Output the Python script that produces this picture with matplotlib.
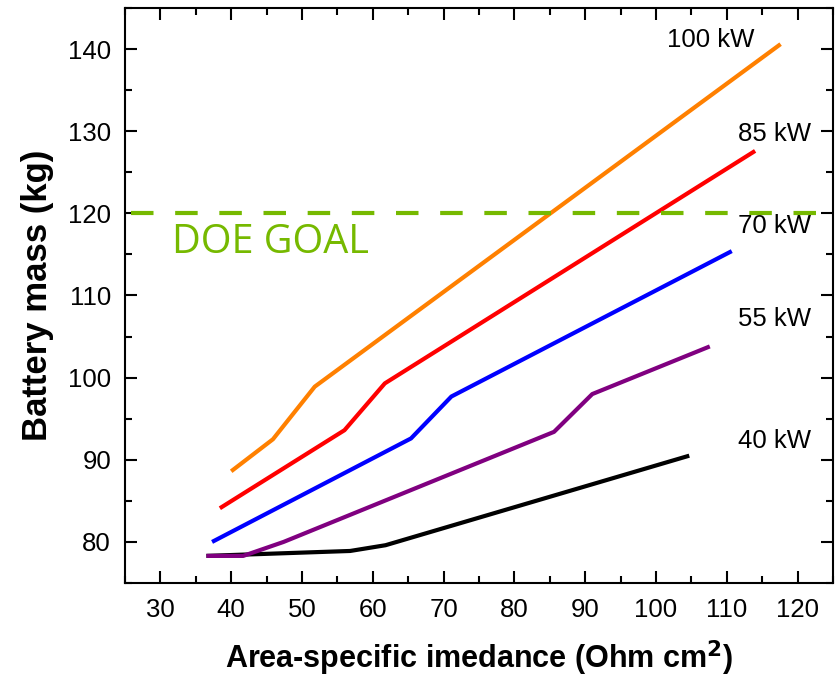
import matplotlib
matplotlib.use("Agg")
import matplotlib.pyplot as plt
from matplotlib.ticker import MultipleLocator

# Area-specific impedance (Ohm cm^2) vs. battery mass (kg) per pack power
imp_100 = [40.0, 45.9, 51.8, 117.6]
mass_100 = [88.6, 92.5, 98.9, 140.6]

imp_85 = [38.4, 56.0, 61.7, 114.0]
mass_85 = [84.1, 93.6, 99.3, 127.6]

imp_70 = [37.3, 65.4, 71.1, 110.7]
mass_70 = [80.0, 92.6, 97.7, 115.4]

imp_55 = [36.5, 41.7, 47.4, 85.6, 91.0, 107.6]
mass_55 = [78.3, 78.3, 80.0, 93.4, 98.0, 103.8]

imp_40 = [36.5, 56.8, 61.8, 104.7]
mass_40 = [78.3, 78.9, 79.6, 90.5]

series_labels = ["100 kW", "85 kW", "70 kW", "55 kW", "40 kW"]
label_x = [113.9, 121.9, 121.9, 121.9, 121.9]
label_y = [140.3, 128.8, 117.6, 106.3, 91.4]

doe_goal = 120
xticks = [30, 40, 50, 60, 70, 80, 90, 100, 110, 120]
yticks = [80, 90, 100, 110, 120, 130, 140]

plt.rcParams["font.family"] = ["Liberation Sans", "DejaVu Sans"]

fig = plt.figure(figsize=(8.36, 6.81), dpi=100)
ax = fig.add_axes([0.1495, 0.1439, 0.8469, 0.8444])

series = [
    (imp_100, mass_100, "#ff8000"),
    (imp_85, mass_85, "#ff0000"),
    (imp_70, mass_70, "#0000ff"),
    (imp_55, mass_55, "#800080"),
    (imp_40, mass_40, "#000000"),
]
# draw black first so purple sits on top where they share the start
for xs, ys, c in reversed(series):
    ax.plot(xs, ys, color=c, lw=3, solid_capstyle="butt", zorder=3)

ax.plot([25.9, 123.3], [doe_goal, doe_goal], color="#76b900", lw=3,
        dashes=(5.4, 5.2), zorder=4)
ax.text(31.6, 115.2, "DOE GOAL", color="#76b900", fontsize=28.5,
        family=["Open Sans", "DejaVu Sans"], ha="left", va="baseline")

for lab, lx, ly in zip(series_labels, label_x, label_y):
    ax.text(lx, ly, lab, fontsize=18.5, ha="right", va="baseline", color="black")

ax.set_xlim(25, 125)
ax.set_ylim(75, 145)
ax.set_xticks(xticks)
ax.set_yticks(yticks)
ax.xaxis.set_minor_locator(MultipleLocator(5))
ax.yaxis.set_minor_locator(MultipleLocator(5))
ax.tick_params(which="both", direction="in", top=True, right=True, width=1.5,
               labelsize=18.5, color="black")
ax.tick_params(which="major", length=8.5)
ax.tick_params(which="minor", length=5)
ax.tick_params(axis="x", pad=11)
ax.tick_params(axis="y", pad=10)
for s in ax.spines.values():
    s.set_linewidth(1.5)

ax.set_xlabel("Area-specific imedance (Ohm cm$^\\mathbf{2}$)", fontsize=22,
              fontweight="bold", labelpad=12)
ax.set_ylabel("Battery mass (kg)", fontsize=25, fontweight="bold", labelpad=10)

fig.savefig("out.png", dpi=100)
